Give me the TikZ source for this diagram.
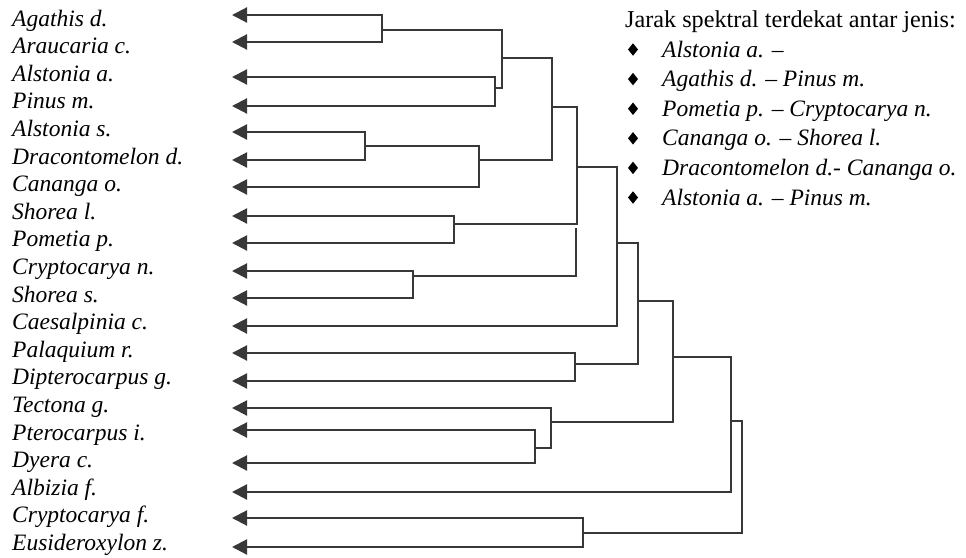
\documentclass[tikz,border=0pt]{standalone}
\usepackage{fontspec}
\setmainfont{Liberation Serif}
\usetikzlibrary{arrows.meta,shapes.geometric}

\tikzset{
  tree/.style={draw=black!78, line width=2.1pt, line join=miter},
  upper/.style={draw=black!78, line width=1.7pt, line join=miter},
  tip/.style={-{Triangle[length=15pt,width=15pt]}},
  tipstart/.style={{Triangle[length=15pt,width=15pt]}-},
  tipboth/.style={{Triangle[length=15pt,width=15pt]}-{Triangle[length=15pt,width=15pt]}},
  species/.style={anchor=base west, inner sep=0pt, font=\fontsize{23.5}{28}\selectfont\itshape},
  heading/.style={anchor=base west, inner sep=0pt, font=\fontsize{24.2}{29}\selectfont},
  pairtext/.style={anchor=base west, inner sep=0pt, font=\fontsize{23.5}{28}\selectfont\itshape},
  bullet/.style={diamond, fill=black, inner sep=0pt, outer sep=0pt, minimum width=10pt, minimum height=12.5pt}
}

\begin{document}
\begin{tikzpicture}[x=1pt, y=-1pt]
\useasboundingbox (0,0) rectangle (966,557);

% species names
\foreach \name [count=\i from 0] in {Agathis d., Araucaria c., Alstonia a., Pinus m., Alstonia s.,
  Dracontomelon d., Cananga o., Shorea l., Pometia p., Cryptocarya n., Shorea s., Caesalpinia c.,
  Palaquium r., Dipterocarpus g., Tectona g., Pterocarpus i., Dyera c., Albizia f., Cryptocarya f.,
  Eusideroxylon z.}
  \node[species] (name\i) at (12, {26+27.6*\i}) {\name};

% arrow tips of the leaves
\foreach \y [count=\i] in {15,42,77,106,132,160,187,216,243,271,298,326,353,381,408,430,463,492,518,547}
  \coordinate (l\i) at (232,\y);

% junctions
\coordinate (jA)  at (382,30);
\coordinate (jB)  at (495,88);
\coordinate (jAB) at (502,58);
\coordinate (jC)  at (365,146);
\coordinate (jC2) at (479,160);
\coordinate (jD)  at (552,107);
\coordinate (jE)  at (454,224);
\coordinate (jF)  at (413,276);
\coordinate (jG)  at (577,167);
\coordinate (jG2) at (576,228);
\coordinate (jH)  at (617,243);
\coordinate (jI)  at (575,364);
\coordinate (jJ)  at (638,301);
\coordinate (jK1) at (535,448);
\coordinate (jK)  at (551,422);
\coordinate (jL)  at (673,357);
\coordinate (jM)  at (731,421);
\coordinate (jN)  at (583,533);
\coordinate (jO)  at (742,480);

% leaf pairs
\draw[tree, tipboth] (l1)  -| (jA)  |- (l2);
\draw[tree, tipboth] (l3)  -| (jB)  |- (l4);
\draw[tree, tipboth] (l5)  -| (jC)  |- (l6);
\draw[tree, tipboth] (l8)  -| (jE)  |- (l9);
\draw[tree, tipboth] (l10) -| (jF)  |- (l11);
\draw[tree, tipboth] (l13) -| (jI)  |- (l14);
\draw[tree, tipboth] (l16) -| (jK1) |- (l17);
\draw[tree, tipboth] (l19) -| (jN)  |- (l20);

% single leaves joining a cluster
\draw[tree, tip]      (jC) -| (jC2) |- (l7);
\draw[tree, tipstart] (l15) -| (jK) |- (jK1);
\draw[tree, tip]      (jG) -| (jH)  |- (l12);
\draw[tree, tip]      (jL) -| (jM)  |- (l18);

% upper levels
\draw[upper] (jA)  -| (jAB) |- (jB);
\draw[upper] (jAB) -| (jD)  |- (jC2);
\draw[upper] (jD)  -| (jG)  |- (jE);
\draw[upper] (jF)  -| (jG2);
\draw[upper] (jH)  -| (jJ)  |- (jI);
\draw[upper] (jJ)  -| (jL)  |- (jK);
\draw[upper] (jM)  -| (jO)  |- (jN);

% legend
\node[heading] (legtitle) at (625,27) {Jarak spektral terdekat antar jenis:};
\foreach \txt [count=\k from 0] in {Alstonia a. --, Agathis d. -- Pinus m., Pometia p. -- Cryptocarya n.,
  Cananga o. -- Shorea l., Dracontomelon d.- Cananga o., Alstonia a. -- Pinus m.}
{
  \node[bullet] (bul\k) at (633, {49.5+29.6*\k}) {};
  \node[pairtext] (pair\k) at (662, {57+29.6*\k}) {\txt};
}
\end{tikzpicture}
\end{document}
